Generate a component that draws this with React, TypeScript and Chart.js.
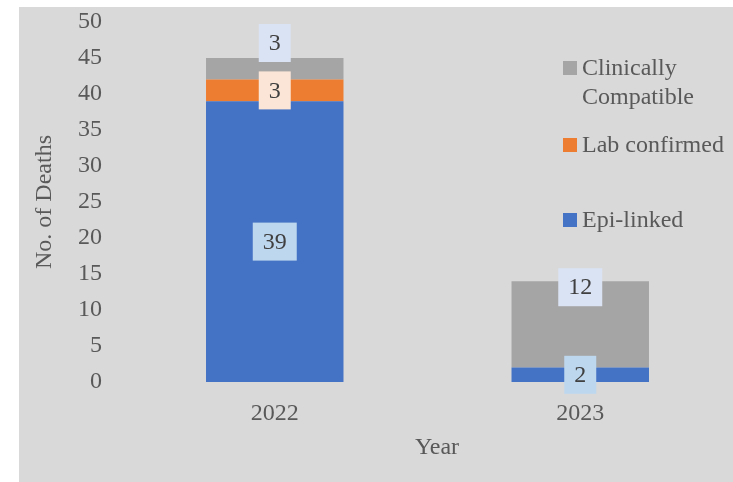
import React, { useEffect, useRef } from "react";
import { Chart, registerables } from "chart.js";

Chart.register(...registerables);

const years = ["2022", "2023"];
const epiLinked = [39, 2];
const labConfirmed = [3, 0];
const clinicallyCompatible = [3, 12];
const yTicksMax = 50;
const yTicksStep = 5;

const FONT = "'Liberation Serif', 'Times New Roman', serif";
const TEXT = "#595959";

const bgPlugin = {
  id: "bg",
  beforeDraw(chart: any) {
    const { ctx, width, height } = chart;
    ctx.save();
    ctx.fillStyle = "#ffffff";
    ctx.fillRect(0, 0, width, height);
    ctx.fillStyle = "#d9d9d9";
    ctx.fillRect(19, 7, width - 19, height - 7);
    ctx.restore();
  },
};

const labelPlugin = {
  id: "boxLabels",
  afterDatasetsDraw(chart: any) {
    const { ctx } = chart;
    const y = chart.scales.y;
    const fills = ["#bdd7ee", "#fbe5d6", "#dae3f3"];
    const grayShift = [-15, 6];
    ctx.save();
    ctx.font = `24px ${FONT}`;
    ctx.textAlign = "center";
    ctx.textBaseline = "middle";
    chart.data.datasets.forEach((ds: any, di: number) => {
      const meta = chart.getDatasetMeta(di);
      meta.data.forEach((bar: any, i: number) => {
        const v = ds.data[i];
        if (!v) return;
        let base = 0;
        for (let k = 0; k < di; k++) base += chart.data.datasets[k].data[i];
        let cy: number;
        if (di === 2) {
          cy = y.getPixelForValue(base + v) + grayShift[i];
        } else {
          cy = y.getPixelForValue(base + v / 2);
        }
        const text = String(v);
        const tw = ctx.measureText(text).width;
        const bw = tw + 20;
        const bh = 38;
        ctx.fillStyle = fills[di];
        ctx.fillRect(bar.x - bw / 2, cy - bh / 2, bw, bh);
        ctx.fillStyle = "#404040";
        ctx.fillText(text, bar.x, cy + 1);
      });
    });
    ctx.restore();
  },
};

const legendPlugin = {
  id: "customLegend",
  afterDraw(chart: any) {
    const { ctx } = chart;
    const ds = chart.data.datasets;
    const items = [
      { color: ds[2].backgroundColor, lines: ["Clinically", "Compatible"], y: 68 },
      { color: ds[1].backgroundColor, lines: ["Lab confirmed"], y: 145 },
      { color: ds[0].backgroundColor, lines: ["Epi-linked"], y: 220 },
    ];
    ctx.save();
    ctx.font = `24px ${FONT}`;
    ctx.textBaseline = "middle";
    ctx.textAlign = "left";
    items.forEach((it) => {
      ctx.fillStyle = it.color;
      ctx.fillRect(563, it.y - 7, 14, 14);
      ctx.fillStyle = TEXT;
      it.lines.forEach((ln, li) => {
        ctx.fillText(ln, 582, it.y + li * 29 + 1);
      });
    });
    // x-axis title
    ctx.textAlign = "center";
    ctx.fillText("Year", 437, 448);
    ctx.restore();
  },
};

export default function App() {
  const ref = useRef<HTMLCanvasElement>(null);
  useEffect(() => {
    if (!ref.current) return;
    const chart = new Chart(ref.current, {
      type: "bar",
      data: {
        labels: years,
        datasets: [
          { label: "Epi-linked", data: epiLinked, backgroundColor: "#4472c4" },
          { label: "Lab confirmed", data: labConfirmed, backgroundColor: "#ed7d31" },
          { label: "Clinically Compatible", data: clinicallyCompatible, backgroundColor: "#a5a5a5" },
        ],
      },
      options: {
        responsive: false,
        animation: false,
        layout: { padding: { left: 25, right: 0, top: 22, bottom: 0 } },
        datasets: { bar: { barPercentage: 0.45, categoryPercentage: 1 } },
        plugins: {
          legend: { display: false },
          tooltip: { enabled: false },
        },
        scales: {
          x: {
            stacked: true,
            grid: { display: false, drawTicks: false },
            border: { display: false },
            ticks: { color: TEXT, font: { family: FONT, size: 24 }, padding: 17 },
            title: { display: false },
            afterFit(scale: any) {
              scale.height = 100;
              scale.paddingLeft = 0;
              scale.paddingRight = 0;
            },
          },
          y: {
            stacked: true,
            min: 0,
            max: yTicksMax,
            grid: { display: false, drawTicks: false },
            border: { display: false },
            ticks: { stepSize: yTicksStep, color: TEXT, font: { family: FONT, size: 24 }, padding: 20 },
            title: {
              display: true,
              text: "No. of Deaths",
              color: TEXT,
              font: { family: FONT, size: 24 },
              padding: { top: 5, bottom: 5 },
            },
            afterFit(scale: any) {
              scale.width = 97;
              scale.paddingTop = 0;
              scale.paddingBottom = 0;
            },
          },
        },
      },
      plugins: [bgPlugin, labelPlugin, legendPlugin],
    });
    return () => chart.destroy();
  }, []);
  return (
    <div style={{ position: "fixed", left: 0, top: 0, width: 733, height: 482 }}>
      <canvas ref={ref} width={733} height={482} style={{ display: "block" }} />
    </div>
  );
}
